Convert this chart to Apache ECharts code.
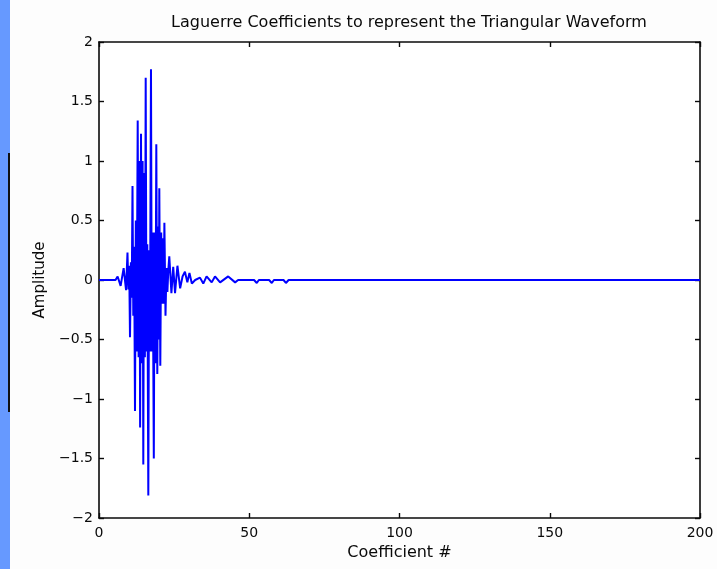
<!DOCTYPE html>
<html>
<head>
<meta charset="utf-8">
<title>Laguerre Coefficients</title>
<script src="https://cdn.jsdelivr.net/npm/echarts@6/dist/echarts.min.js"></script>
<style>
  html, body { margin: 0; padding: 0; background: #fdfdfd; }
  #chart { width: 717px; height: 569px; }
</style>
</head>
<body>
<div id="chart"></div>
<script>
// Coefficient positions and their amplitudes (dense oscillating burst, then near-zero tail)
const coefficientIndex = [
  0, 5.5, 6.2, 7.2, 8.2, 9.0,
  9.48, 9.78, 10.05, 10.32, 10.62, 10.88, 11.15, 11.41, 11.68, 11.98,
  12.25, 12.51, 12.88, 13.18, 13.44, 13.68, 13.98, 14.24, 14.51, 14.74,
  15.01, 15.27, 15.54, 15.81, 16.07, 16.41, 16.67, 16.94, 17.30, 17.57,
  17.84, 18.24, 18.50, 18.77, 19.07, 19.40, 19.70, 19.87, 20.07, 20.40,
  20.70, 20.97, 21.23, 21.50, 21.76, 22.13, 22.46, 22.76, 23.06, 23.39,
  24.1, 24.7, 25.3, 26.1, 27.0, 27.8, 28.6, 29.4, 30.1, 30.9, 32.0, 33.6,
  34.7, 35.8, 37.5, 38.6, 40.3, 43.0, 45.3, 46.3, 51.6, 52.5, 53.2, 56.6,
  57.5, 58.2, 61.4, 62.2, 63.1, 200
];
const amplitude = [
  0, 0, 0.03, -0.05, 0.10, -0.085,
  0.23, -0.08, 0.12, -0.48, 0.15, -0.15, 0.79, -0.30, 0.28, -1.10,
  0.50, -0.60, 1.34, -0.65, 1.00, -1.24, 1.23, -0.70, 1.00, -1.55,
  0.90, -0.65, 1.70, -0.60, 0.30, -1.81, 0.25, -0.60, 1.77, -0.60,
  0.40, -1.50, 0.40, -0.70, 1.14, -0.79, 0.45, -0.50, 0.77, -0.72,
  0.40, -0.20, 0.35, -0.20, 0.48, -0.30, 0.10, -0.10, 0.08, 0.20,
  -0.11, 0.11, -0.11, 0.12, -0.07, 0.03, 0.07, -0.02, 0.06, -0.03, 0.0, 0.02,
  -0.03, 0.03, -0.02, 0.03, -0.02, 0.03, -0.02, 0, 0, -0.025, 0, 0,
  -0.025, 0, 0, -0.025, 0, 0
];
const xTicks = { min: 0, max: 200, step: 50 };
const yTicks = { min: -2, max: 2, step: 0.5 };

const points = coefficientIndex.map((x, i) => [x, amplitude[i]]);

const chart = echarts.init(document.getElementById('chart'), null, { renderer: 'canvas' });

const font = '"DejaVu Sans", Verdana, sans-serif';
const ink = '#0a0a0a';
const axisLine = { show: true, onZero: false, lineStyle: { color: ink, width: 1.6 } };
const tick = { show: true, inside: true, length: 5, lineStyle: { color: ink, width: 1.4 } };

chart.setOption({
  backgroundColor: '#fdfdfd',
  animation: false,
  title: {
    text: 'Laguerre Coefficients to represent the Triangular Waveform',
    left: 404, top: 10, textAlign: 'center',
    textStyle: { fontFamily: font, fontSize: 16, fontWeight: 'normal', color: ink }
  },
  grid: { left: 99, right: 17, top: 42, bottom: 51, show: true, backgroundColor: '#ffffff', borderWidth: 0 },
  xAxis: [{
    type: 'value', min: xTicks.min, max: xTicks.max, interval: xTicks.step,
    position: 'bottom',
    name: 'Coefficient #', nameLocation: 'middle', nameGap: 24,
    nameTextStyle: { fontFamily: font, fontSize: 16, color: ink },
    axisLine, axisTick: tick,
    axisLabel: { fontFamily: font, fontSize: 14, color: ink, margin: 8 },
    splitLine: { show: false }
  }, {
    type: 'value', min: xTicks.min, max: xTicks.max, interval: xTicks.step,
    position: 'top', axisLine, axisTick: tick,
    axisLabel: { show: false }, splitLine: { show: false }
  }],
  yAxis: [{
    type: 'value', min: yTicks.min, max: yTicks.max, interval: yTicks.step,
    position: 'left',
    name: 'Amplitude', nameLocation: 'middle', nameGap: 50, nameRotate: 90,
    nameTextStyle: { fontFamily: font, fontSize: 15, color: ink },
    axisLine, axisTick: tick,
    axisLabel: {
      fontFamily: font, fontSize: 14, color: ink, margin: 6,
      formatter: v => (v < 0 ? '\u2212' + Math.abs(v) : String(v))
    },
    splitLine: { show: false }
  }, {
    type: 'value', min: yTicks.min, max: yTicks.max, interval: yTicks.step,
    position: 'right', axisLine, axisTick: tick,
    axisLabel: { show: false }, splitLine: { show: false }
  }],
  series: [{
    type: 'line',
    data: points,
    showSymbol: false,
    symbol: 'none',
    lineStyle: { color: '#0000ff', width: 2 },
    z: 3
  }],
  graphic: [
    // slide border strip on the left edge
    { type: 'rect', left: 0, top: 0, shape: { x: 0, y: 0, width: 10, height: 569 }, style: { fill: '#6699ff' }, z: 0 },
    { type: 'line', shape: { x1: 9, y1: 153, x2: 9, y2: 412 }, style: { stroke: '#111', lineWidth: 2 }, z: 1 }
  ]
});
</script>
</body>
</html>
